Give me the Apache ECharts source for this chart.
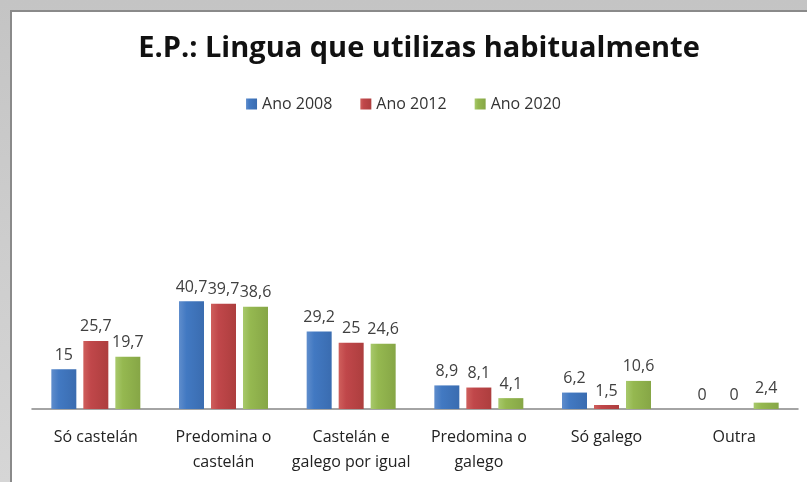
<!DOCTYPE html>
<html>
<head>
<meta charset="utf-8">
<script src="https://cdn.jsdelivr.net/npm/echarts@6/dist/echarts.min.js"></script>
<style>
  html, body { margin: 0; padding: 0; }
  body { width: 807px; height: 482px; position: relative; overflow: hidden;
         background: linear-gradient(to bottom, #c4c4c4, #d6d6d6); }
  #frame { position: absolute; left: 10px; top: 10px; right: 0; bottom: 0;
           background: #fff; border-left: 2px solid #8a8a8a; border-top: 2px solid #8a8a8a; }
  #chart { position: absolute; left: 0; top: 0; width: 807px; height: 482px; }
</style>
</head>
<body>
<div id="frame"></div>
<div id="chart"></div>
<script>
const categories = ['Só castelán', 'Predomina o\ncastelán', 'Castelán e\ngalego por igual', 'Predomina o\ngalego', 'Só galego', 'Outra'];
const years = ['Ano 2008', 'Ano 2012', 'Ano 2020'];
const ano2008 = [15, 40.7, 29.2, 8.9, 6.2, 0];
const ano2012 = [25.7, 39.7, 25, 8.1, 1.5, 0];
const ano2020 = [19.7, 38.6, 24.6, 4.1, 10.6, 2.4];

const font = '"Open Sans", sans-serif';

const grad = (light, base, dark) => new echarts.graphic.LinearGradient(0, 0, 1, 0, [
  { offset: 0, color: light },
  { offset: 0.3, color: base },
  { offset: 1, color: dark }
]);

const colors = [
  grad('#5f8dcc', '#4279c2', '#3a6cb0'),
  grad('#cf5f5c', '#c0474a', '#ad3e3e'),
  grad('#a8c96c', '#95b850', '#86a646')
];

const makeSeries = (name, data, i) => ({
  name: name,
  type: 'bar',
  data: data,
  barWidth: 25,
  barGap: '28%',
  itemStyle: { color: colors[i] },
  label: {
    show: true,
    position: 'top',
    distance: 6,
    fontFamily: font,
    fontSize: 16,
    color: '#404040',
    formatter: p => String(p.value).replace('.', ',')
  }
});

const chart = echarts.init(document.getElementById('chart'));
chart.setOption({
  animation: false,
  title: {
    text: 'E.P.: Lingua que utilizas habitualmente',
    left: 414,
    textAlign: 'center',
    top: 29,
    textStyle: { fontFamily: font, fontSize: 29, fontWeight: 'bold', color: '#111' }
  },
  legend: {
    data: years,
    top: 91,
    left: 'center',
    itemWidth: 11,
    itemHeight: 11,
    itemGap: 28,
    icon: 'rect',
    textStyle: { fontFamily: font, fontSize: 16, color: '#333' }
  },
  grid: { left: 32, right: 9, top: 144, bottom: 73 },
  xAxis: {
    type: 'category',
    data: categories,
    axisLine: { lineStyle: { color: '#868686', width: 1.5 } },
    axisTick: { show: false },
    axisLabel: {
      interval: 0,
      margin: 16,
      fontFamily: font,
      fontSize: 16,
      lineHeight: 25,
      color: '#222',
      verticalAlign: 'top'
    }
  },
  yAxis: {
    type: 'value',
    min: 0,
    max: 100,
    show: false
  },
  series: [
    makeSeries(years[0], ano2008, 0),
    makeSeries(years[1], ano2012, 1),
    makeSeries(years[2], ano2020, 2)
  ]
});
</script>
</body>
</html>
